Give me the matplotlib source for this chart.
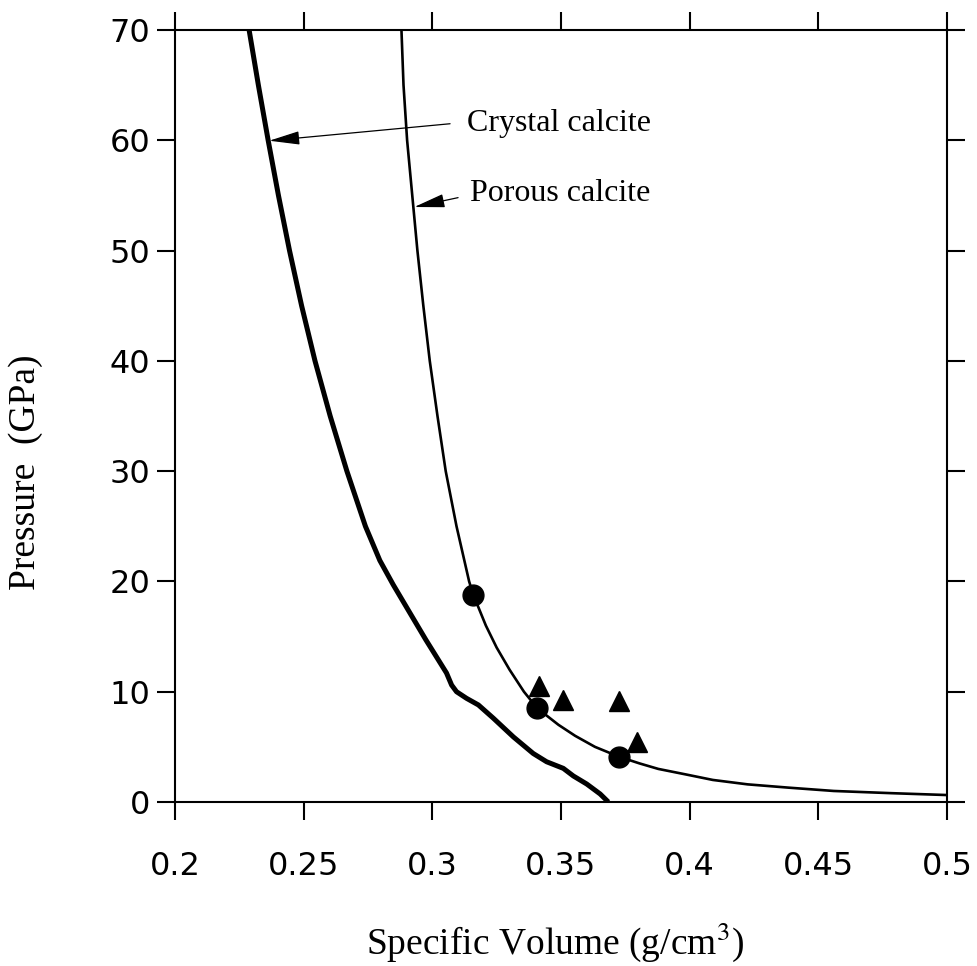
import matplotlib
matplotlib.use("Agg")
from matplotlib import pyplot as plt

# Hugoniot curves, specific volume (g/cm^3) vs pressure (GPa)
crystal_vol = [0.2288, 0.2324, 0.2362, 0.2402, 0.2445, 0.2492, 0.2544, 0.2603,
               0.2668, 0.2740, 0.2796, 0.2848, 0.2914, 0.2975, 0.3015, 0.3055,
               0.3075, 0.3094, 0.3133, 0.3179, 0.3237, 0.3315, 0.3392, 0.3444,
               0.3509, 0.3548, 0.3600, 0.3652, 0.3684]
crystal_p = [70.0, 65.0, 60.0, 55.0, 50.0, 45.0, 40.0, 35.0,
             30.0, 25.0, 21.9, 19.7, 17.1, 14.7, 13.2, 11.7,
             10.6, 10.0, 9.4, 8.8, 7.6, 5.9, 4.4, 3.65,
             3.05, 2.36, 1.63, 0.73, 0.0]

porous_vol = [0.2880, 0.2888, 0.2902, 0.2922, 0.2942, 0.2965, 0.2990, 0.3020,
              0.3052, 0.3094, 0.3143, 0.3159, 0.3208, 0.3250, 0.3300, 0.3356,
              0.3408, 0.3490, 0.3555, 0.3632, 0.3725, 0.3805, 0.3878, 0.3985,
              0.4090, 0.4225, 0.4385, 0.4560, 0.4785, 0.5000]
porous_p = [70.0, 65.0, 60.0, 55.0, 50.0, 45.0, 40.0, 35.0,
            30.0, 25.0, 20.0, 18.8, 16.0, 14.0, 12.0, 10.0,
            8.5, 7.0, 6.0, 5.0, 4.11, 3.5, 3.0, 2.5,
            2.0, 1.6, 1.3, 1.0, 0.8, 0.63]

# measured shots
circle_vol = [0.3159, 0.3408, 0.3727]
circle_p = [18.8, 8.5, 4.11]
triangle_vol = [0.3416, 0.3509, 0.3727, 0.3794]
triangle_p = [10.5, 9.25, 9.18, 5.47]

x_ticks = [0.2, 0.25, 0.3, 0.35, 0.4, 0.45, 0.5]
x_tick_labels = ["0.2", "0.25", "0.3", "0.35", "0.4", "0.45", "0.5"]
y_ticks = [0, 10, 20, 30, 40, 50, 60, 70]

plt.rcParams['mathtext.fontset'] = 'stix'
serif = 'Liberation Serif'

fig = plt.figure(figsize=(9.77, 9.66), dpi=100)
ax = fig.add_axes([175 / 977, 164 / 966, 772 / 977, 772 / 966])

ax.plot(crystal_vol, crystal_p, color='black', linewidth=3.6,
        solid_joinstyle='round', solid_capstyle='butt')
ax.plot(porous_vol, porous_p, color='black', linewidth=1.9,
        solid_joinstyle='round')
ax.plot(circle_vol, circle_p, linestyle='none', marker='o', markersize=15,
        color='black')
ax.plot(triangle_vol, triangle_p, linestyle='none', marker='^',
        markersize=14, color='black')

ax.set_xlim(0.2, 0.5)
ax.set_ylim(0, 70)
ax.set_xticks(x_ticks)
ax.set_xticklabels(x_tick_labels)
ax.set_yticks(y_ticks)

for spine in ax.spines.values():
    spine.set_linewidth(1.5)
ax.tick_params(axis='both', direction='out', length=13, width=1.5,
               labelsize=23, top=True, right=True)
ax.tick_params(axis='x', pad=22)
ax.tick_params(axis='y', pad=5)

ax.set_xlabel("Specific Volume (g/cm$^3$)", family=serif, fontsize=27,
              va='center')
ax.xaxis.set_label_coords(0.492, -0.181)
ax.set_ylabel("Pressure  (GPa)", family=serif, fontsize=27, va='center')
ax.yaxis.set_label_coords(-0.194, 0.4275)

arrow = dict(arrowstyle='-|>,head_length=1.9,head_width=0.42', color='black',
             linewidth=0.9, shrinkA=0, shrinkB=0)
ax.annotate("", xy=(0.2366, 59.96), xytext=(0.3069, 61.5), arrowprops=arrow)
ax.text(0.3135, 61.5, "Crystal calcite", family=serif, fontsize=23,
        ha='left', va='center')
ax.annotate("", xy=(0.2930, 53.95), xytext=(0.3100, 54.8), arrowprops=arrow)
ax.text(0.3147, 55.2, "Porous calcite", family=serif, fontsize=23,
        ha='left', va='center')

plt.savefig("out.png", dpi=100)
